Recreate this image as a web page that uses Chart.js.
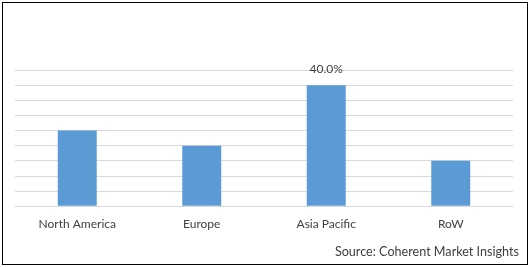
<!DOCTYPE html>
<html>
<head>
<meta charset="utf-8">
<script src="https://cdn.jsdelivr.net/npm/chart.js@4"></script>
<style>
  html, body { margin: 0; padding: 0; background: #fff; }
  #wrap { position: relative; width: 531px; height: 267px; }
  #frame { position: absolute; left: 2px; top: 2px; width: 524px; height: 261px; border: 1px solid #000; }
  #src { position: absolute; right: 12px; top: 244px; font: 12.6px Lato, sans-serif; color: #404040; white-space: nowrap; }
  canvas { position: absolute; left: 0; top: 0; }
</style>
</head>
<body>
<div id="wrap">
  <canvas id="grafico" width="531" height="267"></canvas>
  <div id="frame"></div>
  <div id="src">Source: Coherent Market Insights</div>
</div>
<script>
const regioes = ['North America', 'Europe', 'Asia Pacific', 'RoW'];
const participacao = [25, 20, 40, 15];
const rotulos = ['', '', '40.0%', ''];

const corTexto = '#404040';

// escreve o rotulo só onde tem texto
const pluginRotulos = {
    id: 'rotulos',
    afterDatasetsDraw(chart) {
        const ctx = chart.ctx;
        const meta = chart.getDatasetMeta(0);
        ctx.save();
        ctx.font = '12px Lato, sans-serif';
        ctx.fillStyle = corTexto;
        ctx.textAlign = 'center';
        ctx.textBaseline = 'bottom';
        meta.data.forEach((bar, i) => {
            if (rotulos[i]) ctx.fillText(rotulos[i], bar.x, bar.y - 10);
        });
        ctx.restore();
    }
};

new Chart(document.getElementById('grafico'), {
    type: 'bar',
    data: {
        labels: regioes,
        datasets: [{ data: participacao, backgroundColor: '#5b9bd5', barPercentage: 0.313, categoryPercentage: 1 }]
    },
    options: {
        responsive: false, animation: false,
        layout: { padding: { left: 15, right: 18, top: 70, bottom: 0 } },
        plugins: { legend: { display: false }, tooltip: { enabled: false } },
        scales: {
            x: {
                grid: { display: false }, border: { display: false },
                ticks: { color: corTexto, font: { family: 'Lato', size: 12 }, padding: 3, maxRotation: 0 },
                afterFit: s => { s.height = 60.7; }
            },
            y: {
                min: 0, max: 45,
                ticks: { display: false, stepSize: 5 },
                grid: { color: '#d9d9d9', drawTicks: false },
                border: { display: false },
                afterFit: s => { s.width = 0; }
            }
        }
    },
    plugins: [pluginRotulos]
});
</script>
</body>
</html>
